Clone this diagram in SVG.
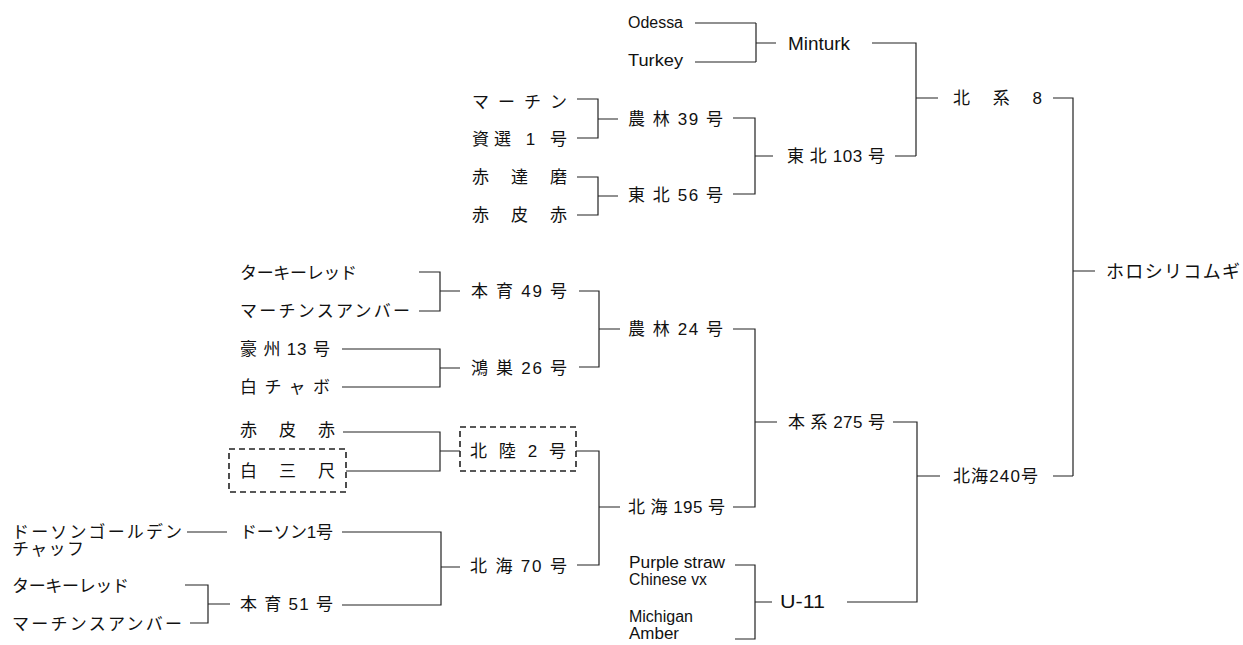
<svg xmlns="http://www.w3.org/2000/svg" width="1243" height="645" viewBox="0 0 1243 645">
<style>
text{font-family:"Liberation Sans","Noto Sans CJK JP",sans-serif;font-size:17px;fill:#111}
.l{font-size:16px}
.conn{fill:none;stroke:#222;stroke-width:1.2}
.box{fill:none;stroke:#222;stroke-width:1.6;stroke-dasharray:6 4}
</style>
<rect width="1243" height="645" fill="#fff"/>
<g id="connectors" class="conn">
<path d="M695 23H756M695 62H756M756 23V62M756 43H776"/>
<path d="M872 43H916V156M895 156H916M916 98H938"/>
<path d="M1053 98H1073V476M1053 476H1073M1073 271H1095"/>
<path d="M577 99H598V138H577M598 119H618"/>
<path d="M733 118H755V194H733M755 156H773"/>
<path d="M577 177H598V215H577M598 196H618"/>
<path d="M419 272H440V311H419M440 291H460"/>
<path d="M579 291H599V367H579M599 329H620"/>
<path d="M342 349H440V387H342M440 368H460"/>
<path d="M733 329H755V507H733M755 422H777"/>
<path d="M893 422H917V602H847M917 476H940"/>
<path d="M343 432H440V471H346M440 451H460"/>
<path d="M576 451H599V565H577M599 507H620"/>
<path d="M187 532H227"/>
<path d="M342 532H441V605H342M441 567H460"/>
<path d="M185 585H208V623H190M208 604H230"/>
<path d="M735 565H755V639H735M755 602H772"/>
</g>
<g id="n-odessa"><text class="l" x="628" y="28" textLength="55" lengthAdjust="spacingAndGlyphs">Odessa</text></g>
<g id="n-turkey"><text class="l" x="628" y="66" textLength="55" lengthAdjust="spacingAndGlyphs">Turkey</text></g>
<g id="n-minturk"><text x="788" y="50" style="font-size:18px" textLength="62" lengthAdjust="spacingAndGlyphs">Minturk</text></g>
<g id="n-hokkei8"><text x="953" y="104" textLength="89" lengthAdjust="spacing">北 系 8</text></g>
<g id="n-horoshiri"><text x="1106" y="278" style="font-size:18px" textLength="134" lengthAdjust="spacing">ホロシリコムギ</text></g>
<g id="n-martin"><text x="472" y="108" textLength="95" lengthAdjust="spacing">マーチン</text></g>
<g id="n-shisen1"><text x="472" y="145" textLength="95" lengthAdjust="spacing">資選 1 号</text></g>
<g id="n-norin39"><text x="628" y="125" textLength="95" lengthAdjust="spacing">農 林 39 号</text></g>
<g id="n-tohoku103"><text x="787" y="162" textLength="98" lengthAdjust="spacing">東 北 103 号</text></g>
<g id="n-akadaruma"><text x="472" y="183" textLength="95" lengthAdjust="spacing">赤達磨</text></g>
<g id="n-akakawaaka1"><text x="472" y="221" textLength="95" lengthAdjust="spacing">赤皮赤</text></g>
<g id="n-tohoku56"><text x="628" y="201" textLength="95" lengthAdjust="spacing">東 北 56 号</text></g>
<g id="n-turkeyred1"><text x="240" y="279" textLength="117" lengthAdjust="spacing">ターキーレッド</text></g>
<g id="n-martinamber1"><text x="240" y="317" textLength="170" lengthAdjust="spacing">マーチンスアンバー</text></g>
<g id="n-honiku49"><text x="471" y="297" textLength="96" lengthAdjust="spacing">本 育 49 号</text></g>
<g id="n-goshu13"><text x="240" y="355" textLength="90" lengthAdjust="spacing">豪 州 13 号</text></g>
<g id="n-shirochabo"><text x="240" y="393" textLength="90" lengthAdjust="spacing">白チャボ</text></g>
<g id="n-konosu26"><text x="471" y="374" textLength="96" lengthAdjust="spacing">鴻 巣 26 号</text></g>
<g id="n-norin24"><text x="628" y="335" textLength="95" lengthAdjust="spacing">農 林 24 号</text></g>
<g id="n-honkei275"><text x="788" y="428" textLength="97" lengthAdjust="spacing">本 系 275 号</text></g>
<g id="n-hokkai240"><text x="953" y="482" textLength="85" lengthAdjust="spacing">北海240号</text></g>
<g id="n-akakawaaka2"><text x="240" y="436" textLength="95" lengthAdjust="spacing">赤皮赤</text></g>
<g id="n-shirosanjaku"><rect class="box" x="229" y="449" width="117" height="43"/><text x="240" y="477" textLength="95" lengthAdjust="spacing">白三尺</text></g>
<g id="n-hokuriku2"><rect class="box" x="460" y="427" width="116" height="44"/><text x="470" y="457" textLength="96" lengthAdjust="spacing">北 陸 2 号</text></g>
<g id="n-hokkai195"><text x="628" y="513" textLength="97" lengthAdjust="spacing">北 海 195 号</text></g>
<g id="n-dawsongolden"><text x="12" y="538" textLength="170" lengthAdjust="spacing">ドーソンゴールデン</text><text x="12" y="555" textLength="72" lengthAdjust="spacing">チャッフ</text></g>
<g id="n-dawson1"><text x="240" y="538" textLength="93" lengthAdjust="spacing">ドーソン1号</text></g>
<g id="n-hokkai70"><text x="470" y="572" textLength="97" lengthAdjust="spacing">北 海 70 号</text></g>
<g id="n-turkeyred2"><text x="12" y="592" textLength="117" lengthAdjust="spacing">ターキーレッド</text></g>
<g id="n-martinamber2"><text x="12" y="630" textLength="170" lengthAdjust="spacing">マーチンスアンバー</text></g>
<g id="n-honiku51"><text x="240" y="610" textLength="93" lengthAdjust="spacing">本 育 51 号</text></g>
<g id="n-purplestraw"><text class="l" x="629" y="568" textLength="96" lengthAdjust="spacingAndGlyphs">Purple straw</text><text class="l" x="629" y="585" textLength="78" lengthAdjust="spacingAndGlyphs">Chinese vx</text></g>
<g id="n-michigan"><text class="l" x="629" y="622" textLength="64" lengthAdjust="spacingAndGlyphs">Michigan</text><text class="l" x="629" y="639" textLength="50" lengthAdjust="spacingAndGlyphs">Amber</text></g>
<g id="n-u11"><text x="780" y="608" style="font-size:18px" textLength="45" lengthAdjust="spacingAndGlyphs">U-11</text></g>
</svg>
